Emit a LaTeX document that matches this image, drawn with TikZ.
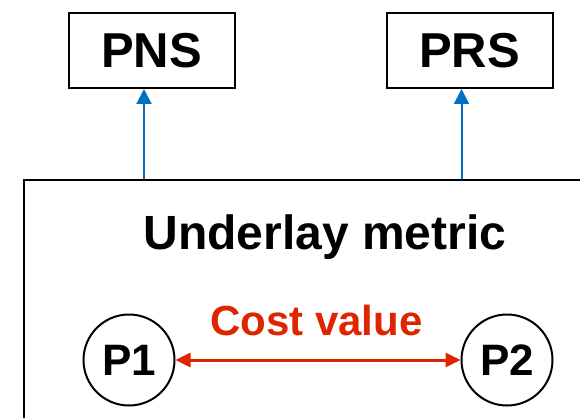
\documentclass[tikz,border=0pt]{standalone}
\usepackage{fontspec}
\setmainfont{Liberation Sans}
\usetikzlibrary{arrows.meta,shapes.geometric}
\definecolor{arrowblue}{RGB}{0,112,192}
\definecolor{costred}{RGB}{221,38,0}
\tikzset{
  sbox/.style={draw=black,line width=2pt,minimum width=166pt,minimum height=75pt,inner sep=0pt,font=\fontsize{49}{52}\selectfont\bfseries},
  pnode/.style={draw=black,line width=2pt,circle,minimum size=91pt,inner sep=0pt,font=\fontsize{44}{48}\selectfont\bfseries},
  upar/.style={draw=arrowblue,line width=2pt,-{Triangle[width=15pt,length=15pt]}},
  costar/.style={draw=costred,line width=3pt,{Triangle[width=14pt,length=15pt]}-{Triangle[width=14pt,length=15pt]}}
}
\begin{document}
\begin{tikzpicture}[x=1pt,y=-1pt]
\useasboundingbox (0,0) rectangle (580,417);
\begin{scope}
\clip (0,0) rectangle (580,417);
\node[draw=black,line width=2pt,anchor=north west,minimum width=620pt,minimum height=300pt,inner sep=0pt] (under) at (23,179) {};
\end{scope}
\node[sbox] (pns) at (151.5,50.5) {PNS};
\node[sbox] (prs) at (469.5,50.5) {PRS};
\node[anchor=base,font=\fontsize{48}{52}\selectfont\bfseries] (ul) at (325,249) {Underlay metric};
\node[anchor=base,text=costred,font=\fontsize{42}{46}\selectfont\bfseries] (cv) at (316.5,335) {Cost value};
\node[pnode] (p1) at (129,360) {P1};
\node[pnode] (p2) at (507,360) {P2};
\coordinate (a1) at (144,179);
\coordinate (a2) at (461.5,179);
\draw[upar] (a1) -- (a1 |- pns.south);
\draw[upar] (a2) -- (a2 |- prs.south);
\draw[costar] (p1) -- (p2);
\end{tikzpicture}
\end{document}
